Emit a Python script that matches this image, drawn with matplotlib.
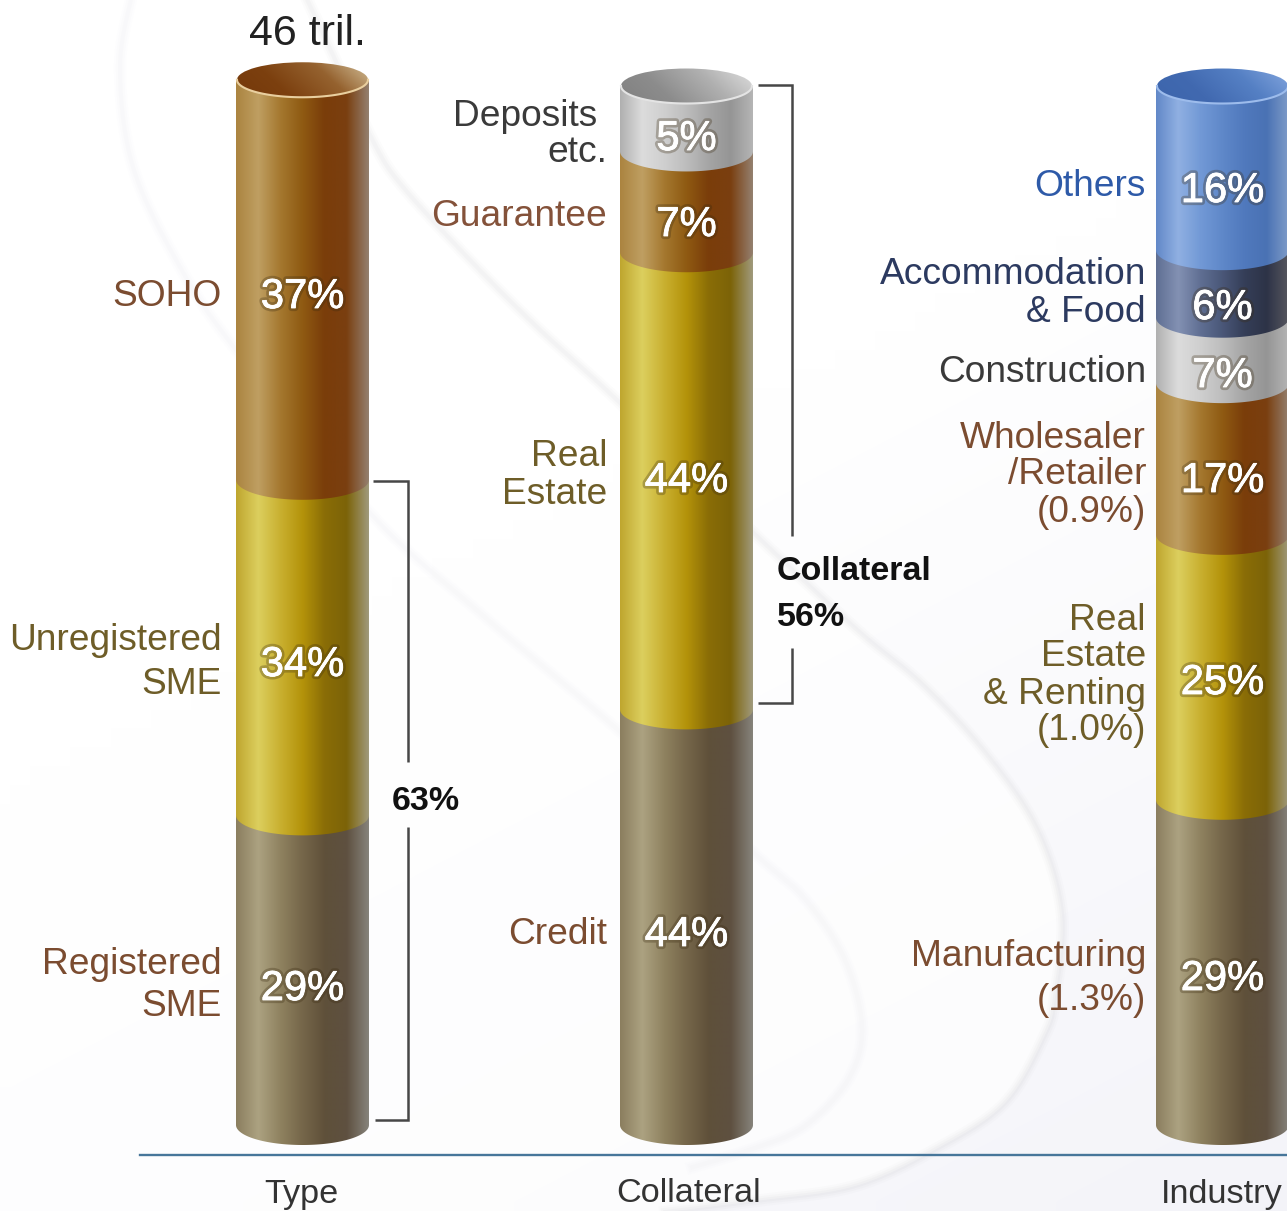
import matplotlib
matplotlib.use('Agg')
import matplotlib.pyplot as plt
import matplotlib.patheffects as pe
from matplotlib.colors import LinearSegmentedColormap
from matplotlib.patches import Polygon, Ellipse
import numpy as np

plt.rcParams['font.family'] = ['Liberation Sans', 'DejaVu Sans']

# printed shares, top segment first
type_shares = [37, 34, 29]
collateral_shares = [5, 7, 44, 44]
industry_shares = [16, 6, 7, 17, 25, 29]

# drawn segment heights (the artwork is not to scale)
type_heights = [38.5, 32.3, 29.8]
collateral_heights = [6.3, 9.7, 44.0, 40.0]
industry_heights = [15.8, 6.5, 6.3, 14.6, 25.5, 31.3]

type_colors = ['brown', 'yellow', 'taupe']
collateral_colors = ['gray', 'brown', 'yellow', 'taupe']
industry_colors = ['blue', 'navy', 'gray', 'brown', 'yellow', 'taupe']

column_names = ['Type', 'Collateral', 'Industry']
total_label = '46 tril.'
type_bracket_label = '63%'
collateral_bracket_labels = ['Collateral', '56%']

# layout, all in image pixels
W, H = 1287, 1211
BASE_PX = 1125
PX_PER_PCT = 10.39
COL_W = 133
COL_X = [302.5, 686.5, 1222.5]

STOPS = {
    'brown': ['#ab8440', '#bf9f62', '#a5782f', '#8f5a12', '#7a3d0a', '#7a3f10', '#94806f'],
    'yellow': ['#bfa62f', '#dccf5e', '#c9b030', '#b4930a', '#8a6d06', '#7c6308', '#a09a7c'],
    'taupe': ['#8b7e5f', '#aca281', '#8f8260', '#75664a', '#5f503a', '#5e5040', '#86837b'],
    'gray': ['#b0b0b0', '#dcdcdc', '#cfcfcf', '#bdbdbd', '#a5a5a5', '#959595', '#b5b5b5'],
    'blue': ['#6288c8', '#90b0e2', '#7299d6', '#5f88c9', '#5079bd', '#4a72b4', '#7f9cc8'],
    'navy': ['#5f6f93', '#8391b3', '#606f93', '#4a5778', '#353e58', '#2d3347', '#57575f'],
}
INNER = {
    'brown': ['#74380a', '#7c400f', '#95622f', '#d4c29c'],
    'gray': ['#7f7f7f', '#8c8c8c', '#b0b0b0', '#e2e2e2'],
    'blue': ['#3c65ac', '#4169b0', '#5580c4', '#86a8e0'],
}
RIM = {'brown': '#e9cf9f', 'gray': '#e4e4e4', 'blue': '#9dbcec'}

# background arcs, traced by eye
OUTER_ARC = [(305, -5), (340, 70), (375, 145), (403, 187), (470, 260), (537, 327), (617, 400), (740, 520),
             (855, 628), (922, 684), (988, 756), (1038, 831), (1062, 914), (1055, 997), (1045, 1035),
             (1005, 1103), (938, 1148), (855, 1186), (755, 1201), (640, 1215)]
INNER_ARC = [(133, -10), (120, 67), (133, 167), (180, 267), (236, 350), (370, 513), (480, 613), (617, 729),
             (755, 854), (805, 899), (845, 960), (862, 1028), (848, 1080), (805, 1126), (755, 1148), (690, 1168)]


def gradient(colors):
    return LinearSegmentedColormap.from_list('g', colors)(np.linspace(0, 1, 256))[None, :, :3]


def smooth(points, n=16):
    # catmull-rom through the traced points
    p = np.array(points, dtype=float)
    p = np.vstack([p[0], p, p[-1]])
    out = []
    for i in range(1, len(p) - 2):
        t = np.linspace(0, 1, n, endpoint=False)[:, None]
        out.append(0.5 * (2 * p[i] + (p[i + 1] - p[i - 1]) * t
                          + (2 * p[i - 1] - 5 * p[i] + 4 * p[i + 1] - p[i + 2]) * t ** 2
                          + (3 * p[i] - p[i - 1] - 3 * p[i + 1] + p[i + 2]) * t ** 3))
    return np.vstack(out)


def draw_column(ax, cx, heights, colors):
    half = COL_W / 2
    ry_low = 20 / PX_PER_PCT
    ry_top = 17.5 / PX_PER_PCT
    t = np.linspace(np.pi, 2 * np.pi, 80)
    tops = sum(heights) - np.cumsum([0] + heights[:-1])
    # bottom segment first, the one above covers its flat top
    for h, top, name in list(zip(heights, tops, colors))[::-1]:
        low = top - h
        xs = cx + half * np.cos(t)
        ys = low + ry_low * np.sin(t)
        pts = np.column_stack([np.r_[cx - half, xs, cx + half], np.r_[top, ys, top]])
        patch = Polygon(pts, closed=True, fc='none', ec='none')
        ax.add_patch(patch)
        im = ax.imshow(gradient(STOPS[name]), extent=[cx - half, cx + half, low - 3, top], aspect='auto',
                       interpolation='bilinear', zorder=2)
        im.set_clip_path(patch)
    # open mouth of the tube, shaded across the diagonal
    top_y = sum(heights)
    name = colors[0]
    mouth = Ellipse((cx, top_y), COL_W - 2, 2 * ry_top, fc='none', ec='none')
    ax.add_patch(mouth)
    gx, gy = np.meshgrid(np.linspace(0, 1, 128), np.linspace(1, 0, 32))
    cmap = LinearSegmentedColormap.from_list('m', INNER[name])
    im = ax.imshow(cmap(0.75 * gx + 0.25 * gy)[:, :, :3], extent=[cx - half, cx + half, top_y - 2, top_y + 2],
                   aspect='auto', interpolation='bilinear', zorder=3)
    im.set_clip_path(mouth)
    ax.plot(cx + (half - 1) * np.cos(t), top_y + ry_top * np.sin(t), color=RIM[name], lw=1.5, zorder=4)


def px_line(ax, xs, ys):
    ax.plot(xs, ys, color='#474747', lw=1.8, solid_joinstyle='miter', solid_capstyle='butt', zorder=2)


fig = plt.figure(figsize=(W / 100, H / 100), dpi=100)
fig.patch.set_facecolor('white')

pix = fig.add_axes([0, 0, 1, 1])
pix.axis('off')

# pale tint toward the lower right, the area inside the outer arc stays nearly white
gx, gy = np.meshgrid(np.linspace(0, 1, 64), np.linspace(0, 1, 64))
tint = np.clip(0.9 * gy + 0.5 * gx - 0.6, 0, 1)[:, :, None]
bg = (1 - tint) * np.array([1.0, 1.0, 1.0]) + tint * np.array([0.945, 0.945, 0.97])
pix.imshow(bg, extent=[0, W, H, 0], aspect='auto', interpolation='bilinear', zorder=0)
outer = smooth(OUTER_ARC)
inner = smooth(INNER_ARC)
pix.fill(np.r_[outer[:, 0], -10, -10], np.r_[outer[:, 1], H + 10, -10], color='white', alpha=0.75, lw=0, zorder=0.5)
for lw, a in [(9, 0.022), (6, 0.03), (3, 0.04)]:
    pix.plot(outer[:, 0], outer[:, 1], color='#8d8d96', lw=lw, alpha=a, zorder=1)
    pix.plot(inner[:, 0], inner[:, 1], color='#a5a5ae', lw=lw, alpha=a * 0.6, zorder=1)
pix.set_xlim(0, W)
pix.set_ylim(H, 0)

col = fig.add_axes([0, 0, 1, 1], zorder=2)
col.patch.set_alpha(0)
col.axis('off')
for cx, heights, colors in zip(COL_X, [type_heights, collateral_heights, industry_heights],
                               [type_colors, collateral_colors, industry_colors]):
    draw_column(col, cx, heights, colors)
col.set_xlim(0, W)
col.set_ylim(-(H - BASE_PX) / PX_PER_PCT, BASE_PX / PX_PER_PCT)

# share labels on the tubes
glow = [pe.withStroke(linewidth=4.5, foreground='#3a2a10', alpha=0.3), pe.withStroke(linewidth=0.6, foreground='white')]
share_y = [[297, 665, 989], [139, 225, 481, 935], [191, 308, 376, 481, 683, 979]]
for cx, shares, ys in zip(COL_X, [type_shares, collateral_shares, industry_shares], share_y):
    for s, y in zip(shares, ys):
        col.text(cx, y, f'{s}%', transform=pix.transData, ha='center', va='center', color='white',
                 fontsize=30, path_effects=glow, zorder=6)

BROWN = '#7b4c30'
OLIVE = '#6e5d28'
DARK = '#3a3a3a'
side_labels = [
    (222, 297, 'SOHO', BROWN), (222, 641, 'Unregistered', OLIVE), (222, 685, 'SME', OLIVE),
    (222, 964, 'Registered', BROWN), (222, 1007, 'SME', BROWN),
    (597, 116, 'Deposits', DARK), (607, 153, 'etc.', DARK), (607, 217, 'Guarantee', '#84523a'),
    (607, 457, 'Real', OLIVE), (607, 494, 'Estate', OLIVE), (607, 935, 'Credit', BROWN),
    (1146, 187, 'Others', '#2e5aa8'), (1146, 275, 'Accommodation', '#2c3a60'), (1146, 313, '& Food', '#2c3a60'),
    (1146, 372, 'Construction', DARK), (1146, 438, 'Wholesaler', BROWN), (1146, 475, '/Retailer', BROWN),
    (1146, 513, '(0.9%)', BROWN), (1146, 620, 'Real', OLIVE), (1146, 657, 'Estate', OLIVE),
    (1146, 694, '& Renting', OLIVE), (1146, 731, '(1.0%)', OLIVE), (1146, 956, 'Manufacturing', BROWN),
    (1146, 1001, '(1.3%)', BROWN),
]
for x, y, txt, c in side_labels:
    pix.text(x, y, txt, ha='right', va='center', color=c, fontsize=26.7, zorder=3)

pix.text(307, 34, total_label, ha='center', va='center', color='#222222', fontsize=31, zorder=3)

# brackets
px_line(pix, [373, 408, 408], [481, 481, 762])
px_line(pix, [408, 408, 375], [827, 1120, 1120])
px_line(pix, [758, 792, 792], [85, 85, 536])
px_line(pix, [792, 792, 758], [648, 703, 703])
pix.text(426, 801, type_bracket_label, ha='center', va='center', color='#111111', fontsize=24.5, fontweight='bold', zorder=3)
pix.text(777, 572, collateral_bracket_labels[0], ha='left', va='center', color='#111111', fontsize=24.5, fontweight='bold', zorder=3)
pix.text(777, 617, collateral_bracket_labels[1], ha='left', va='center', color='#111111', fontsize=24.5, fontweight='bold', zorder=3)

# baseline and column names
pix.plot([140, W], [1155, 1155], color='#47769a', lw=1.7, zorder=2)
for x, name in zip([301, 689, 1222], column_names):
    pix.text(x, 1194, name, ha='center', va='center', color='#333333', fontsize=24.7, zorder=3)

fig.savefig('out.png', dpi=100)
plt.close(fig)
